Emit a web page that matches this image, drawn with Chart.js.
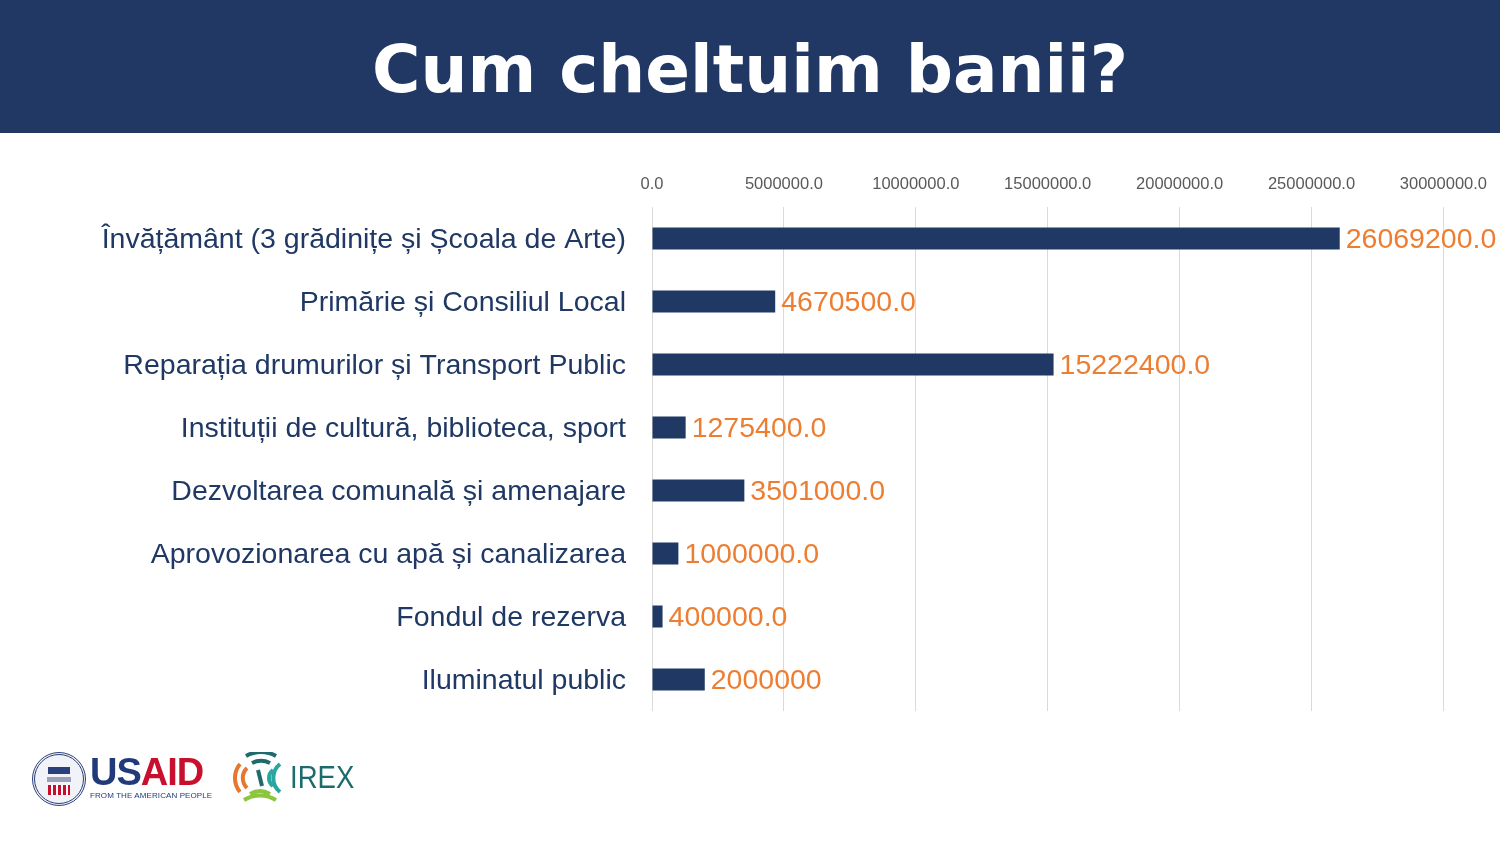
<!DOCTYPE html>
<html>
<head>
<meta charset="utf-8">
<script src="https://cdn.jsdelivr.net/npm/chart.js@4"></script>
<style>
    html, body { margin: 0; padding: 0; background: #fff; }
    body { width: 1500px; height: 844px; position: relative; overflow: hidden; }
    .header {
        position: absolute; left: 0; top: 0; width: 1500px; height: 133px;
        background: #213864; color: #fff; text-align: center;
        font-family: "DejaVu Sans", Arial, sans-serif; font-weight: bold;
        font-size: 66px; line-height: 140px;
    }
    #chartWrap { position: absolute; left: 0; top: 0; width: 1500px; height: 844px; }
    .logos { position: absolute; left: 32px; top: 750px; height: 60px; }
    .seal {
        position: absolute; left: 0; top: 2px; width: 54px; height: 54px; border-radius: 50%;
        border: 3px double #2b3f7a; box-sizing: border-box; background: #f2f3f8;
    }
    .seal .band { position: absolute; left: 13px; top: 12px; width: 22px; height: 7px; background: #2b3f7a; }
    .seal .hands { position: absolute; left: 12px; top: 22px; width: 24px; height: 5px; background: #9aa0b5; }
    .seal .stripes {
        position: absolute; left: 13px; top: 30px; width: 22px; height: 10px;
        background: repeating-linear-gradient(90deg, #c8102e 0 3px, #fff 3px 5px);
    }
    .usaid {
        position: absolute; left: 58px; top: 4px; font-family: "Liberation Sans", Arial, sans-serif;
        font-weight: bold; font-size: 38px; letter-spacing: -1px; line-height: 36px;
    }
    .usaid .us { color: #213a7a; }
    .usaid .aid { color: #c8102e; }
    .tag {
        position: absolute; left: 58px; top: 41px; font-family: "Liberation Sans", Arial, sans-serif;
        font-size: 8px; color: #213a7a; white-space: nowrap; letter-spacing: 0.1px;
    }
    .irex-mark { position: absolute; left: 200px; top: 2px; }
    .irex {
        position: absolute; left: 258px; top: 9px; font-family: "Liberation Sans", Arial, sans-serif;
        font-size: 32px; color: #1d6b6b; transform: scaleX(0.86); transform-origin: left center;
    }
</style>
</head>
<body>
<div class="header">Cum cheltuim banii?</div>
<div id="chartWrap"><canvas id="budgetChart" width="1500" height="844"></canvas></div>
<div class="logos">
    <div class="seal"><div class="band"></div><div class="hands"></div><div class="stripes"></div></div>
    <div class="usaid"><span class="us">US</span><span class="aid">AID</span></div>
    <div class="tag">FROM THE AMERICAN PEOPLE</div>
    <svg class="irex-mark" width="56" height="54" viewBox="0 0 56 54">
        <path d="M8 12 A22 22 0 0 0 8 40" stroke="#e8772e" stroke-width="4" fill="none"/>
        <path d="M15 16 A14 14 0 0 0 15 36" stroke="#e8772e" stroke-width="4" fill="none"/>
        <path d="M14 4 A30 30 0 0 1 44 4" stroke="#1d6b6b" stroke-width="4" fill="none"/>
        <path d="M20 11 A20 20 0 0 1 38 11" stroke="#1d6b6b" stroke-width="4" fill="none"/>
        <path d="M26 18 L30 34" stroke="#1d6b6b" stroke-width="4" fill="none"/>
        <path d="M48 12 A18 18 0 0 0 48 40" stroke="#2aa6a0" stroke-width="4" fill="none"/>
        <path d="M41 18 A10 10 0 0 0 41 34" stroke="#2aa6a0" stroke-width="4" fill="none"/>
        <path d="M12 48 A30 30 0 0 1 44 48" stroke="#8cc63f" stroke-width="4" fill="none"/>
        <path d="M18 42 A20 20 0 0 1 38 42" stroke="#8cc63f" stroke-width="4" fill="none"/>
    </svg>
    <div class="irex">IREX</div>
</div>
<script>
const categories = [
    "Învățământ (3 grădinițe și Școala de Arte)",
    "Primărie și Consiliul Local",
    "Reparația drumurilor și Transport Public",
    "Instituții de cultură, biblioteca, sport",
    "Dezvoltarea comunală și amenajare",
    "Aprovozionarea cu apă și canalizarea",
    "Fondul de rezerva",
    "Iluminatul public"
];
const spending = [26069200, 4670500, 15222400, 1275400, 3501000, 1000000, 400000, 2000000];
const valueLabels = ["26069200.0", "4670500.0", "15222400.0", "1275400.0", "3501000.0", "1000000.0", "400000.0", "2000000"];
const axisMax = 30000000;
const axisStep = 5000000;

const valueLabelPlugin = {
    id: "valueLabels",
    afterDatasetsDraw(chart) {
        const ctx = chart.ctx;
        const meta = chart.getDatasetMeta(0);
        ctx.save();
        ctx.font = "28.5px 'Liberation Sans', Arial, sans-serif";
        ctx.fillStyle = "#ed7d31";
        ctx.textAlign = "left";
        ctx.textBaseline = "middle";
        meta.data.forEach((bar, i) => {
            ctx.fillText(valueLabels[i], bar.x + 6, bar.y + 2);
        });
        ctx.restore();
    }
};

new Chart(document.getElementById("budgetChart"), {
    type: "bar",
    data: {
        labels: categories,
        datasets: [{
            data: spending,
            backgroundColor: "#1f3864",
            categoryPercentage: 1,
            barPercentage: 0.35
        }]
    },
    options: {
        indexAxis: "y",
        responsive: false,
        animation: false,
        layout: { padding: { top: 150, bottom: 133, right: 56, left: 0 } },
        plugins: { legend: { display: false }, tooltip: { enabled: false } },
        scales: {
            x: {
                position: "top",
                min: 0,
                max: axisMax,
                afterFit: (scale) => { scale.height = 57; },
                ticks: {
                    stepSize: axisStep,
                    padding: 13,
                    color: "#595959",
                    font: { family: "'Liberation Sans', Arial, sans-serif", size: 16.5 },
                    callback: (v) => Number(v).toFixed(1)
                },
                grid: { color: "#d9d9d9", drawTicks: false },
                border: { display: false }
            },
            y: {
                afterFit: (scale) => { scale.width = 652; },
                ticks: {
                    padding: 26,
                    labelOffset: 2,
                    color: "#1f3864",
                    font: { family: "'Liberation Sans', Arial, sans-serif", size: 28.5 }
                },
                grid: { display: false, drawTicks: false },
                border: { display: false }
            }
        }
    },
    plugins: [valueLabelPlugin]
});
</script>
</body>
</html>
